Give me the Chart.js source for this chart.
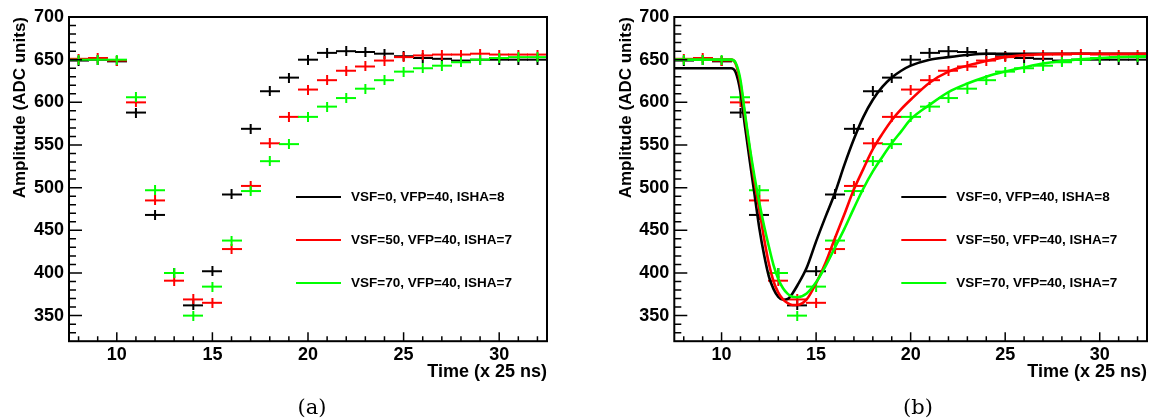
<!DOCTYPE html>
<html>
<head>
<meta charset="utf-8">
<script src="https://cdn.jsdelivr.net/npm/chart.js@4.4.1/dist/chart.umd.min.js"></script>
<style>
  html, body { margin: 0; padding: 0; background: #fff; }
  #wrap { position: relative; width: 1154px; height: 418px; background: #fff; overflow: hidden; }
  canvas { position: absolute; top: 0; }
  .cap { position: absolute; width: 100px; text-align: center; top: 395px; line-height: 24px;
         font-family: "DejaVu Serif", "Liberation Serif", serif; font-size: 21px; color: #000; }
</style>
</head>
<body>
<div id="wrap">
  <canvas id="cA" width="577" height="418" style="left:0px"></canvas>
  <canvas id="cB" width="577" height="418" style="left:577px"></canvas>
  <div class="cap" style="left:262px">(a)</div>
  <div class="cap" style="left:868px">(b)</div>
</div>
<script>
// ---------------- data ----------------
const sampleTimes = [8, 9, 10, 11, 12, 13, 14, 15, 16, 17, 18, 19, 20, 21, 22, 23, 24, 25, 26, 27, 28, 29, 30, 31, 32];
const blackPoints = [649, 650, 648, 588, 468, 400, 362, 402, 492, 569, 613, 629, 650, 658, 660, 659, 657, 654, 652, 651, 649, 650, 650, 650, 650];
const redPoints   = [651, 652, 649, 600, 485, 391, 369, 365, 428, 502, 552, 583, 615, 626, 637, 642, 649, 653, 655, 656, 656, 657, 656, 656, 656];
const greenPoints = [650, 650, 650, 606, 497, 400, 350, 384, 438, 496, 531, 551, 583, 595, 605, 616, 626, 636, 640, 643, 647, 650, 652, 653, 653];

const fitTimes = [7.5, 10, 10.5, 10.75, 11, 11.25, 11.5, 11.75, 12, 12.25, 12.5, 12.75, 13, 13.25, 13.5, 13.75, 14, 14.5, 15, 15.5, 16, 16.5, 17, 17.5, 18, 18.5, 19, 19.5, 20, 21, 22, 23, 24, 25, 26, 27, 28, 30, 32.5];
const blackFit = [640, 640, 640, 635, 612, 570, 530, 491, 452, 421, 396, 381, 372, 368.5, 369.5, 376, 385, 406, 437, 466, 494, 527, 557, 583, 603, 618, 629, 637, 643, 650, 653, 655.5, 657, 657, 657, 657, 657, 657, 657];
const redFit   = [650, 650, 650, 645, 622, 582, 543, 506, 474, 440, 411, 390, 377, 369, 364.5, 362.5, 362.5, 369, 388, 412, 441, 469, 498, 522, 545, 563, 579, 592, 603, 623, 636, 643, 648.5, 653, 655.5, 656.5, 657, 657, 657];
const greenFit = [650, 650, 650, 646, 626, 585, 546, 512, 482, 455, 431, 409, 393, 382, 375.5, 372, 371.5, 376, 389, 408, 430, 452, 476, 499, 519, 536, 552, 566, 580, 597, 612, 622, 630, 636, 641, 645.5, 648.5, 652, 654];

const seriesNames = ["VSF=0, VFP=40, ISHA=8", "VSF=50, VFP=40, ISHA=7", "VSF=70, VFP=40, ISHA=7"];
const seriesColors = ["#000000", "#ff0000", "#00ff00"];

const xTickValues = [10, 15, 20, 25, 30];
const yTickValues = [350, 400, 450, 500, 550, 600, 650, 700];
const xRange = [7.5, 32.5];
const yRange = [320, 700];

const xTitle = "Time (x 25 ns)";
const yTitle = "Amplitude (ADC units)";

// ---------------- helpers ----------------
const FONT = "'Liberation Sans', Arial, Helvetica, sans-serif";

function crossImage(color) {
  const c = document.createElement('canvas');
  c.width = 20; c.height = 10;
  const g = c.getContext('2d');
  g.strokeStyle = color; g.lineWidth = 2;
  g.beginPath();
  g.moveTo(0, 5); g.lineTo(20, 5);
  g.moveTo(10, 0); g.lineTo(10, 10);
  g.stroke();
  return c;
}
function pts(xs, ys) { return xs.map((x, i) => ({x: x, y: ys[i]})); }

const pointSets = [blackPoints, redPoints, greenPoints];
const fitSets = [blackFit, redFit, greenFit];

function pointDatasets() {
  return pointSets.map((vals, i) => ({
    type: 'scatter',
    label: seriesNames[i],
    data: pts(sampleTimes, vals),
    pointStyle: crossImage(seriesColors[i]),
    pointRadius: 6,
    showLine: false,
    order: 10 - i
  }));
}
function fitDatasets() {
  return fitSets.map((vals, i) => ({
    type: 'line',
    label: seriesNames[i] + ' fit',
    data: pts(fitTimes, vals),
    borderColor: seriesColors[i],
    borderWidth: 2.6,
    pointRadius: 0,
    fill: false,
    showLine: true,
    cubicInterpolationMode: 'monotone',
    order: 3 - i
  }));
}

const framePlugin = {
  id: 'frameTicks',
  afterDatasetsDraw(chart) {
    const {ctx, chartArea: a, scales: {x, y}} = chart;
    ctx.save();
    ctx.strokeStyle = '#000';
    ctx.lineWidth = 1.5;
    ctx.beginPath();
    for (let v = Math.ceil(xRange[0]); v <= Math.floor(xRange[1]); v++) {
      const px = x.getPixelForValue(v);
      const len = (v % 5 === 0) ? 9 : 5;
      ctx.moveTo(px, a.bottom); ctx.lineTo(px, a.bottom - len);
    }
    for (let v = yRange[0] + 10; v < yRange[1]; v += 10) {
      const py = y.getPixelForValue(v);
      const len = (v % 50 === 0) ? 13 : 7;
      ctx.moveTo(a.left, py); ctx.lineTo(a.left + len, py);
    }
    ctx.stroke();
    ctx.lineWidth = 2;
    ctx.strokeRect(a.left, a.top, a.right - a.left, a.bottom - a.top);
    // legend
    ctx.font = "bold 13.5px " + FONT;
    ctx.textBaseline = 'middle';
    ctx.textAlign = 'left';
    seriesNames.forEach((name, i) => {
      const yy = a.top + 180 + i * 43;
      ctx.strokeStyle = seriesColors[i];
      ctx.lineWidth = 2;
      ctx.beginPath();
      ctx.moveTo(a.left + 227, yy); ctx.lineTo(a.left + 272, yy);
      ctx.stroke();
      ctx.fillStyle = '#000';
      ctx.fillText(name, a.left + 282, yy + 0.5);
    });
    ctx.restore();
  }
};

function makeChart(id, datasets, padLeft, padRight, yWidth) {
  return new Chart(document.getElementById(id), {
    data: { datasets: datasets },
    plugins: [framePlugin],
    options: {
      responsive: false,
      animation: false,
      devicePixelRatio: 1,
      layout: { padding: { left: padLeft, right: padRight, top: 17, bottom: 35 } },
      plugins: { legend: { display: false }, tooltip: { enabled: false } },
      scales: {
        x: {
          type: 'linear', min: xRange[0], max: xRange[1],
          grid: { display: false, drawTicks: false },
          border: { display: false },
          afterBuildTicks: s => { s.ticks = xTickValues.map(v => ({value: v})); },
          afterFit: s => { s.height = 41.8; },
          ticks: { color: '#000', padding: 3, font: { family: FONT, size: 18, weight: 'bold' }, maxRotation: 0 },
          title: { display: true, text: xTitle, align: 'end', color: '#000', padding: 0,
                   font: { family: FONT, size: 18, weight: 'bold' } }
        },
        y: {
          type: 'linear', min: yRange[0], max: yRange[1],
          grid: { display: false, drawTicks: false },
          border: { display: false },
          afterBuildTicks: s => { s.ticks = yTickValues.map(v => ({value: v})); },
          afterFit: s => { s.width = yWidth; },
          ticks: { color: '#000', padding: 5, font: { family: FONT, size: 18, weight: 'bold' } },
          title: { display: true, text: yTitle, align: 'end', color: '#000', padding: 0,
                   font: { family: FONT, size: 17, weight: 'bold' } }
        }
      }
    }
  });
}

makeChart('cA', pointDatasets(), 10, 30, 59);
makeChart('cB', pointDatasets().concat(fitDatasets()), 39, 2.3, 58.3);
</script>
</body>
</html>
